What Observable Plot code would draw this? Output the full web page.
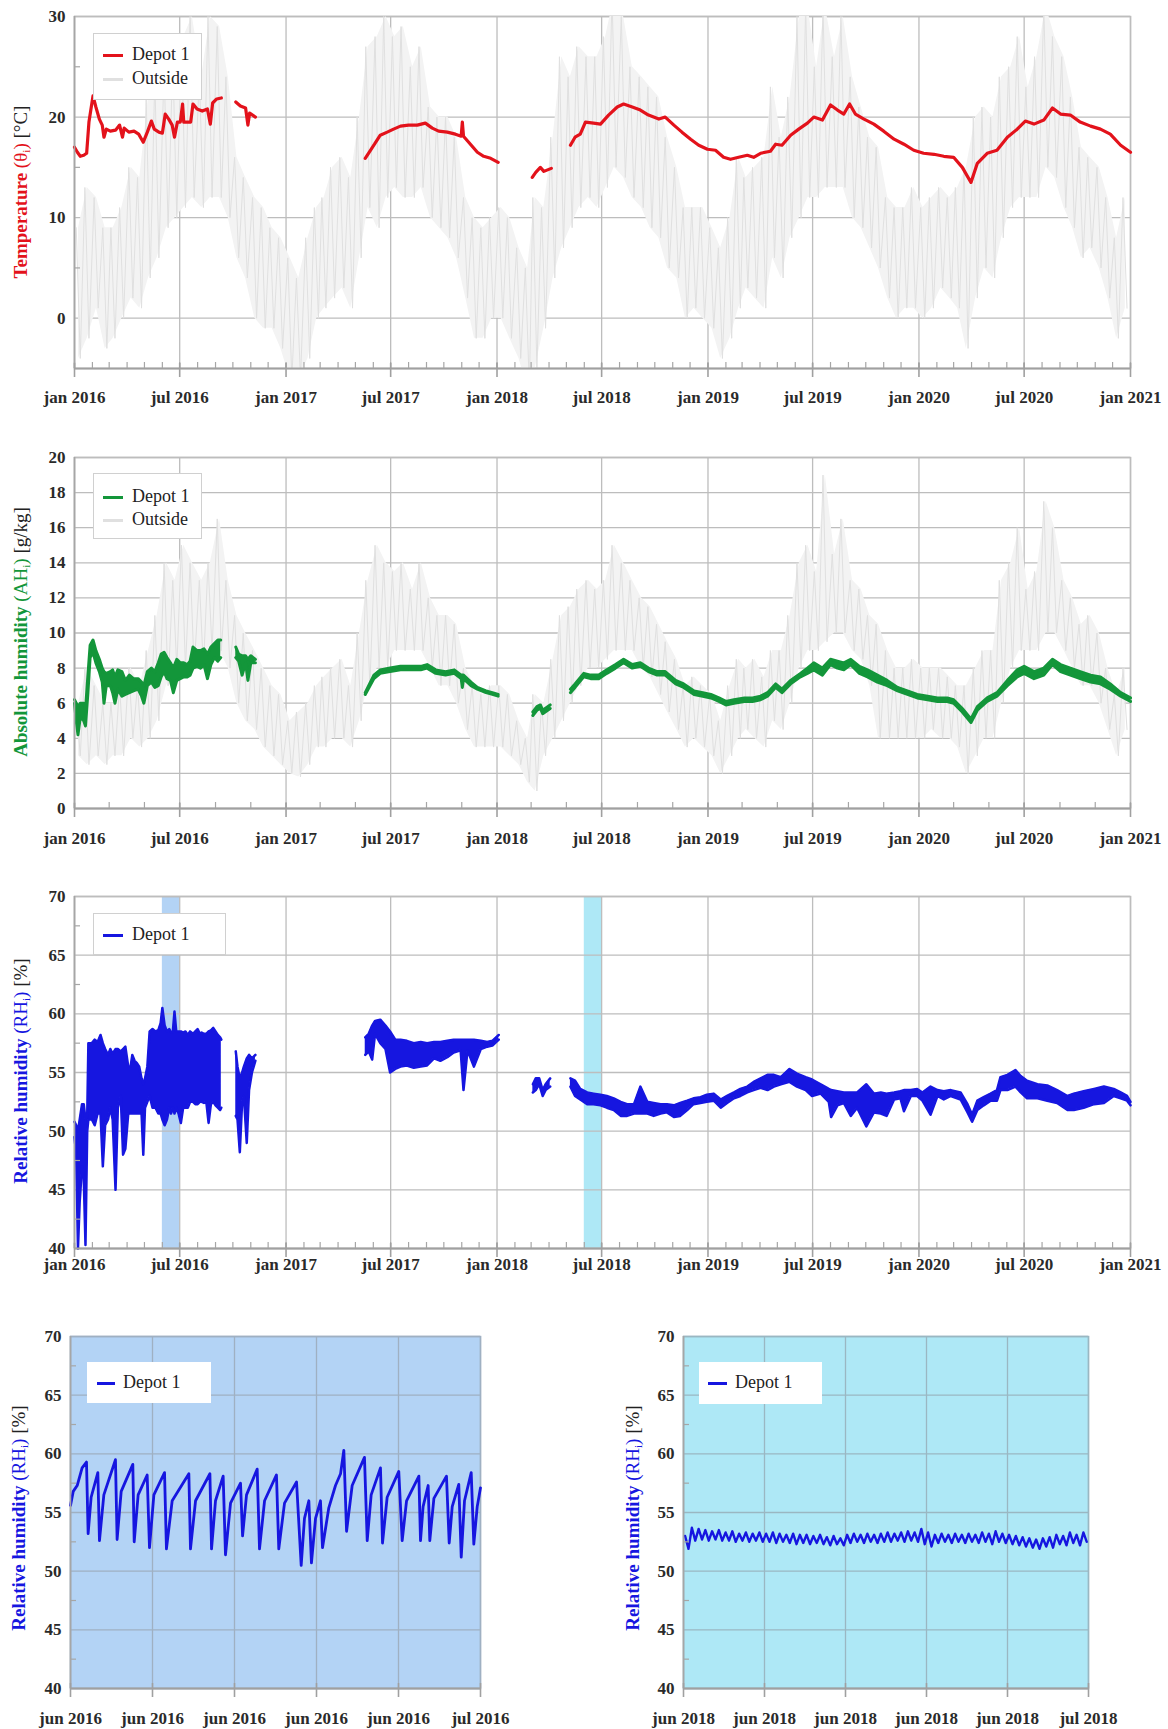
<!DOCTYPE html>
<html><head><meta charset="utf-8">
<script src="https://cdn.jsdelivr.net/npm/d3@7"></script>
<script src="https://cdn.jsdelivr.net/npm/@observablehq/plot@0.6"></script>
<style>
html,body{margin:0;padding:0;background:#fff;overflow:hidden;}
#page{position:relative;width:1168px;height:1729px;font-family:"Liberation Serif",serif;}
.ylab{position:absolute;white-space:nowrap;transform:translate(-50%,-50%) rotate(-90deg);font-size:19px;color:#222;}
.ylab sub{font-size:0.6em;vertical-align:-0.25em;}
.legend{position:absolute;background:#fff;box-sizing:border-box;font-size:18px;color:#222;}
.legend .sw{position:absolute;height:3px;}
.legend .tx{position:absolute;line-height:20px;white-space:nowrap;}
</style></head>
<body><div id="page"></div>
<script>
// ---------- DATA ----------
// Depot 1 temperature [days since 2016-01-01, °C]; null = gap
const tempDepot = [[0,17.0],[5,16.5],[10,16.1],[16,16.2],[21,16.4],[25,19.5],[32,22.1],[37,21.0],[43,19.8],[48,19.2],[51,18.0],[55,18.8],[62,18.6],[71,18.7],[78,19.2],[83,18.0],[86,18.9],[94,18.5],[103,18.6],[111,18.3],[119,17.5],[126,18.5],[133,19.6],[138,18.8],[146,18.5],[152,18.4],[157,20.3],[163,19.8],[169,19.2],[173,18.0],[178,19.5],[183,19.5],[187,21.3],[189,19.5],[201,19.5],[205,21.3],[212,20.8],[221,20.6],[230,20.8],[235,19.3],[239,21.4],[246,21.8],[254,21.9],[265,null],
[279,21.5],[287,21.1],[296,20.9],[300,19.2],[303,20.4],[313,20.0],[400,null],
[503,15.9],[512,16.7],[519,17.3],[529,18.2],[541,18.5],[552,18.8],[564,19.1],[578,19.2],[593,19.2],[607,19.4],[619,18.9],[630,18.6],[645,18.5],[659,18.3],[669,18.1],[671,19.5],[673,18.1],[682,17.5],[697,16.5],[708,16.1],[720,15.9],[733,15.5],[760,null],
[792,14.0],[798,14.5],[806,15.0],[812,14.6],[825,14.9],[840,null],
[858,17.2],[866,18.0],[875,18.3],[884,19.5],[898,19.4],[910,19.3],[924,20.2],[939,21.0],[950,21.3],[965,21.0],[979,20.7],[993,20.2],[1011,19.8],[1022,20.0],[1037,19.2],[1051,18.5],[1066,17.8],[1080,17.2],[1095,16.8],[1109,16.7],[1123,16.0],[1135,15.8],[1149,16.0],[1164,16.2],[1175,16.0],[1187,16.4],[1204,16.6],[1213,17.3],[1224,17.2],[1239,18.2],[1253,18.8],[1268,19.4],[1279,20.0],[1294,19.7],[1308,21.2],[1320,20.7],[1331,20.3],[1341,21.3],[1351,20.3],[1366,19.8],[1383,19.3],[1400,18.6],[1418,17.8],[1435,17.3],[1452,16.7],[1469,16.4],[1487,16.3],[1504,16.1],[1521,16.0],[1536,15.0],[1551,13.5],[1562,15.4],[1579,16.4],[1596,16.7],[1614,18.0],[1631,18.8],[1645,19.6],[1660,19.3],[1677,19.7],[1692,20.9],[1706,20.3],[1723,20.2],[1740,19.5],[1758,19.1],[1775,18.8],[1792,18.3],[1810,17.2],[1827,16.5]];

// Depot 1 absolute humidity [day, low, high] g/kg
const ahDepot = [[0,6.0,6.2],[3,5.0,6.0],[6,4.2,5.8],[10,5.2,6.0],[16,5.0,6.0],[19,4.7,5.6],[23,6.5,7.5],[27,8.6,9.3],[32,8.9,9.6],[37,8.3,9.0],[43,7.8,8.5],[48,7.2,8.0],[51,6.0,7.8],[55,7.0,7.7],[62,7.0,7.8],[66,6.6,7.9],[70,6.0,7.5],[75,6.8,7.9],[82,6.4,7.8],[88,6.5,7.3],[95,6.6,7.6],[102,6.7,7.4],[110,6.8,7.4],[116,6.4,7.2],[120,6.0,7.0],[126,7.0,7.8],[133,7.2,8.0],[139,6.9,7.8],[145,7.0,8.3],[150,7.5,8.8],[155,7.8,8.9],[160,7.4,8.6],[166,7.3,8.3],[171,6.6,8.0],[177,7.3,8.5],[183,7.4,8.3],[189,7.5,8.3],[195,7.5,8.2],[200,7.6,8.4],[205,8.0,9.2],[212,8.1,9.0],[218,8.0,9.0],[224,8.2,9.1],[230,7.4,8.8],[236,8.2,9.2],[242,8.6,9.4],[248,8.4,9.6],[253,8.6,9.6],[265,null,null],
[279,8.6,9.2],[284,8.4,8.8],[290,7.6,8.7],[296,8.3,8.7],[300,7.3,8.5],[305,8.3,8.7],[313,8.3,8.5],[400,null,null],
[503,6.5,6.6],[518,7.4,7.6],[529,7.7,7.9],[546,7.8,8.0],[564,7.9,8.1],[581,7.9,8.1],[599,7.9,8.1],[610,8.0,8.2],[625,7.7,7.9],[642,7.6,7.8],[657,7.7,7.9],[669,7.4,7.6],[671,6.9,7.6],[673,7.4,7.6],[686,7.0,7.2],[697,6.8,6.9],[712,6.6,6.7],[723,6.5,6.6],[733,6.4,6.5],[760,null,null],
[793,5.3,5.5],[800,5.6,5.8],[806,5.7,5.9],[810,5.4,5.6],[823,5.7,5.9],[840,null,null],
[858,6.6,6.8],[866,6.9,7.1],[881,7.5,7.7],[893,7.4,7.6],[907,7.4,7.6],[921,7.7,7.9],[936,8.0,8.2],[950,8.3,8.5],[965,8.0,8.2],[979,8.1,8.3],[993,7.8,8.0],[1008,7.6,7.8],[1022,7.6,7.8],[1040,7.1,7.3],[1054,6.9,7.1],[1072,6.5,6.7],[1087,6.4,6.6],[1101,6.3,6.5],[1115,6.1,6.3],[1127,5.9,6.1],[1141,6.0,6.2],[1159,6.1,6.3],[1173,6.1,6.3],[1187,6.2,6.4],[1199,6.4,6.6],[1213,6.9,7.1],[1224,6.6,6.8],[1239,7.1,7.3],[1256,7.5,7.7],[1268,7.7,8.0],[1279,7.9,8.3],[1294,7.6,8.0],[1308,8.2,8.5],[1320,8.0,8.4],[1331,7.9,8.3],[1343,8.2,8.5],[1358,7.7,8.1],[1372,7.5,7.9],[1389,7.2,7.6],[1406,7.0,7.3],[1424,6.7,6.9],[1441,6.5,6.7],[1458,6.3,6.5],[1476,6.2,6.4],[1493,6.1,6.3],[1510,6.1,6.3],[1521,6.0,6.2],[1536,5.5,5.7],[1551,4.9,5.1],[1562,5.6,5.8],[1579,6.1,6.3],[1596,6.4,6.6],[1614,7.0,7.3],[1631,7.5,7.9],[1643,7.7,8.1],[1660,7.4,7.8],[1677,7.6,8.0],[1692,8.2,8.5],[1706,7.8,8.2],[1723,7.6,8.0],[1740,7.4,7.8],[1758,7.2,7.6],[1775,7.1,7.5],[1792,6.8,7.1],[1810,6.4,6.6],[1827,6.1,6.3]];

// Depot 1 relative humidity [day, low, high] %
const rhDepot = [[0,49.5,50.8],[3,48,50.5],[6,40,50],[9,44,51],[13,47,52.3],[16,46,52.3],[19,40.3,51],[22,50,51.3],[24,51,57.5],[30,51,57.5],[35,50.5,57.8],[40,51.5,57.6],[45,51.5,58.2],[49,47,57.5],[53,50.5,57],[58,51,56.5],[62,52,57],[66,51,56.6],[71,45,57],[75,52,57],[80,53,56.8],[84,48,57],[88,48.5,57.2],[93,51.5,55.5],[97,51.5,55.5],[100,51.5,56.5],[104,51.5,56],[108,51.5,55.8],[112,51.5,55.5],[116,51.5,54.5],[119,48,54],[122,52,54.5],[126,52.5,55.5],[130,53,58.5],[135,52,58.7],[140,52,58.5],[145,51.5,58.6],[149,51.5,59.2],[152,51,60.5],[156,50.5,59],[160,51,58.5],[164,52,58.7],[167,51.5,58.4],[170,52,58.4],[173,51.5,60.2],[176,52,58.5],[180,51.5,58.5],[184,50.7,58.5],[188,52,58.4],[192,52,58.5],[196,52,58.2],[200,52.5,58.5],[205,52.5,58.3],[209,52.3,58.5],[213,52.3,58.7],[217,52.5,58.3],[220,52.5,58.4],[224,52.4,58.3],[228,52.5,58.3],[232,50.7,58.5],[236,52.3,58.6],[240,52.5,58.8],[244,52.2,58.5],[248,52,58.2],[252,51.8,58],[254,52,57.8],[265,null,null],
[279,51.3,56.8],[282,51,55.5],[286,48.2,54.5],[290,52.5,55],[293,53,55.5],[298,49,56.2],[302,53.5,56.5],[307,55,56.2],[313,56,56.5],[400,null,null],
[503,56.5,58],[509,56.8,58.3],[515,56.1,59],[520,58.3,59.4],[529,57.5,59.5],[538,57,59],[546,55,58.5],[555,55.3,57.8],[564,55.5,57.8],[575,55.6,57.7],[587,55.4,57.5],[599,55.5,57.6],[610,55.6,57.5],[622,56.2,57.6],[633,56,57.6],[645,56.3,57.7],[656,56.7,57.8],[668,56.9,57.8],[673,53.5,57.8],[680,56.9,57.8],[691,55.5,57.8],[703,57,57.7],[714,57.2,57.6],[723,57.3,57.7],[734,57.8,58.2],[760,null,null],
[793,53.3,54],[798,53.5,54.5],[804,54,54.5],[810,53,53.5],[815,53.5,54],[823,53.8,54.5],[840,null,null],
[858,53.8,54.5],[866,53,54.3],[875,52.7,53.6],[887,52.3,53.3],[898,52.3,53.2],[910,52.2,53.1],[921,52,53],[933,51.8,52.8],[945,51.3,52.5],[956,51.3,52.3],[968,51.5,52.3],[979,51.5,53.8],[991,51.5,52.5],[1002,51.3,52.4],[1014,51.5,52.3],[1025,51.6,52.3],[1037,51.2,52.2],[1048,51.3,52.4],[1060,51.8,52.6],[1071,52.3,52.8],[1083,52.4,52.9],[1094,52.5,53.1],[1106,52.6,53.2],[1118,52,52.7],[1129,52.4,53],[1141,52.8,53.3],[1152,53,53.6],[1164,53.3,53.8],[1175,53.5,54.2],[1187,53.7,54.5],[1199,53.5,54.8],[1210,53.8,54.8],[1222,54,54.6],[1237,54.2,55.3],[1250,53.8,54.9],[1265,53.5,54.6],[1276,53,54.4],[1291,53.2,54],[1305,52.5,53.6],[1309,51.2,53.5],[1320,52.2,53.4],[1331,52.4,53.3],[1343,51.3,53.3],[1354,52,53.3],[1370,50.4,54],[1383,51.6,53.2],[1395,51.5,53.3],[1405,51.3,53.2],[1418,52.7,53.3],[1429,52.8,53.4],[1435,51.7,53.5],[1447,53,53.5],[1458,53,53.6],[1467,52.6,53.3],[1481,51.4,53.8],[1493,53,53.5],[1504,52.7,53.4],[1516,53,53.5],[1533,52.7,53.3],[1545,51.6,52.3],[1553,50.8,51.4],[1562,51.8,52.6],[1573,52.2,52.9],[1585,52.6,53.2],[1596,52.6,53.5],[1602,53.5,54.6],[1614,53.5,54.8],[1628,53.8,55.2],[1637,53.3,54.7],[1648,52.8,54.3],[1666,52.8,54],[1683,52.6,53.9],[1700,52.4,53.5],[1718,51.8,53],[1729,51.8,53.2],[1746,52,53.4],[1764,52.3,53.6],[1781,52.4,53.8],[1798,53,53.6],[1810,52.8,53.3],[1821,52.6,53],[1827,52.2,52.5]];

// Outside, half-monthly extremes (1st and 16th of each month, Jan 2016 .. Dec 2020)
const tempOutHi = [9,13,12,9,9,11,15,14,22,24,25,26,28,30,24,30,29,24,16,14,12,11,9,8,6,4,8,11,12,15,16,14,20,27,28,30,28,29,25,27,21,20,20,18,12,10,9,10,11,10,7,5,12,11,18,26,24,27,26,26,28,32,30,25,24,23,22,18,15,11,11,11,9,7,10,16,14,15,16,23,18,22,30,31,25,31,26,30,24,21,18,17,12,11,11,13,11,12,13,12,13,15,20,21,20,24,25,28,23,26,31,28,26,22,17,16,15,12,8,12];
const tempOutLo = [-4,-2,1,-3,-2,0,2,1,4,6,9,10,11,12,11,12,12,10,6,4,0,-1,-1,-3,-6,-6,-4,0,1,2,3,1,6,11,9,12,13,12,12,13,10,9,8,6,2,-2,-2,0,0,-2,-4,-7,-5,-1,4,7,9,11,12,11,13,15,14,12,11,9,8,5,4,0,1,0,-1,-4,-2,1,3,2,1,6,4,8,10,12,12,13,13,13,10,9,7,5,2,0,1,1,0,1,3,2,1,-3,2,5,4,8,11,12,12,12,15,14,11,9,6,7,5,2,-2,1];
const ahOutHi = [6,8,7,6,6,7,8,7,9,11,14,13,15,14,13,14,16.5,13,11,10,9,8,7,6.5,5,5.5,6,7,7.5,8,8.5,7,10,13,15,14,13.5,14,12.5,14,12,11,11,10.5,8,7,6.5,7,7,6.5,5,4,6.5,6,8.5,11,11.5,12.5,13,12.5,13,15,14,13,12,11.5,10.5,9.5,8.5,7,7.5,7,6.5,5,7,8.5,8,8.5,7.5,9,9,11,14,15,13.5,19,14.5,16.5,13,12.5,11,10.5,9,8,8,8.5,8,8,8,7.5,7,7,8,9,9,13,14,16,12.5,13.5,17.5,16,13,12,10.5,11,10,8,6.5,8];
const ahOutLo = [3,2.5,3,2.5,3,3,4,3.5,4,5,7,8,8,8,8,9,9,8,6,5,4.5,3.5,3,2.5,2,1.8,2.5,3.5,3.5,4,4,3.5,5,7,8,8,9,9,9,9,8,7,7,6,4.5,3.5,3.5,3.5,3.5,3,2.5,1.5,1,3,4,5,6,7,8,8,8.5,9,9,9,8,7.5,6.5,5.5,4.5,3.5,4,3.5,3,2,3,4,4.5,4,3.5,5,4.5,6,8,9,9,9.5,10,10,9,8.5,7,4,4,4,4,4,4,4.5,4,4,3.5,2,3,4,4,6,8,9,9,9,10,10,9,8,7,7,6,4.5,3,4.5];

// Zoom 1: Depot 1 RH, 1 Jun – 1 Jul 2016 [days since 1 Jun, %]
const rhJun2016 = [[0.00,55.6],[0.20,56.8],[0.49,57.3],[0.85,58.8],[1.17,59.3],[1.29,53.2],[1.51,56.3],[2.00,58.4],[2.12,52.6],[2.44,56.5],[3.29,59.5],[3.41,52.7],[3.71,56.8],[4.56,59.1],[4.66,52.5],[4.95,56.5],[5.61,58.2],[5.78,52.0],[6.10,56.5],[6.88,58.4],[7.02,51.9],[7.44,56.0],[8.66,58.3],[8.78,51.9],[9.15,56.0],[10.20,58.3],[10.32,51.9],[10.61,56.0],[11.17,58.1],[11.34,51.4],[11.71,55.8],[12.44,57.5],[12.59,53.0],[12.88,56.5],[13.66,58.7],[13.83,51.9],[14.20,56.0],[15.07,58.2],[15.24,51.9],[15.66,55.8],[16.54,57.6],[16.88,50.5],[17.12,54.5],[17.44,56.0],[17.63,50.7],[17.93,54.5],[18.29,56.0],[18.44,52.0],[18.90,55.4],[19.39,57.3],[19.76,58.3],[20.00,60.3],[20.20,53.4],[20.61,57.3],[21.51,59.7],[21.71,52.6],[22.00,56.5],[22.68,58.8],[22.83,52.4],[23.17,56.3],[24.02,58.5],[24.27,52.6],[24.59,56.0],[25.49,58.1],[25.61,52.6],[25.80,55.5],[26.17,57.3],[26.29,52.6],[26.59,56.2],[27.51,58.1],[27.71,52.4],[27.93,55.5],[28.41,57.4],[28.59,51.2],[28.83,56.0],[29.32,58.4],[29.51,52.3],[29.76,55.5],[30.00,57.1]];

// Zoom 2: Depot 1 RH, 1 Jun – 1 Jul 2018, half-daily extremes
const rhJun2018Hi = [53.0,53.7,53.6,53.5,53.4,53.5,53.3,53.4,53.2,53.3,53.2,53.3,53.2,53.3,53.2,53.1,53.2,53.1,53.1,53.0,53.1,52.9,53.0,52.8,53.1,53.2,53.1,53.2,53.1,53.2,53.3,53.2,53.3,53.4,53.3,53.6,53.3,53.1,53.2,53.1,53.2,53.1,53.2,53.1,53.3,53.2,53.4,53.2,53.1,53.0,52.9,52.8,52.7,52.8,52.9,53.1,53.0,53.3,53.1,53.3];
const rhJun2018Lo = [51.9,52.6,52.7,52.6,52.7,52.6,52.6,52.5,52.6,52.5,52.6,52.5,52.5,52.4,52.5,52.4,52.3,52.4,52.3,52.4,52.3,52.2,52.3,52.2,52.4,52.5,52.4,52.5,52.4,52.5,52.5,52.6,52.5,52.6,52.5,52.3,52.1,52.4,52.5,52.4,52.5,52.4,52.5,52.4,52.5,52.3,52.5,52.4,52.3,52.2,52.1,52.0,51.9,52.1,52.0,52.3,52.2,52.4,52.2,52.5];

// Highlighted periods (shown enlarged below)
const bandStarts = ["2016-06-01","2018-06-01"];
const bandEnds = ["2016-07-01","2018-07-01"];
const bandColors = ["#b3d3f5","#aee8f6"];

// Axis ticks
const longTicks = ["2016-01-01","2016-07-01","2017-01-01","2017-07-01","2018-01-01","2018-07-01","2019-01-01","2019-07-01","2020-01-01","2020-07-01","2021-01-01"];
const ticks2016 = ["2016-06-01","2016-06-07","2016-06-13","2016-06-19","2016-06-25","2016-07-01"];
const ticks2018 = ["2018-06-01","2018-06-07","2018-06-13","2018-06-19","2018-06-25","2018-07-01"];
const tempTicks = [0,10,20,30], tempMinor = [5,15,25];
const ahTicks = [0,2,4,6,8,10,12,14,16,18,20];
const rhTicks = [40,45,50,55,60,65,70], rhMinor = [42.5,47.5,52.5,57.5,62.5,67.5];

// ---------- HELPERS ----------
const D = s => new Date(s + "T00:00:00Z");
const T0 = Date.UTC(2016,0,1);
const dayDate = (base, d) => new Date(base + d*864e5);
const toRows = (arr, base) => arr.map(r => ({date: dayDate(base, r[0]), lo: r[1], hi: r.length > 2 ? r[2] : r[1]}));
const periodStart = k => Date.UTC(2016, Math.floor(k/2), k % 2 ? 16 : 1);
function outsideRows(hi, lo){
  const zig = [], band = [];
  hi.forEach((h, k) => {
    const s = periodStart(k);
    zig.push({date: dayDate(s, 3), v: h});
    zig.push({date: dayDate(s, 10), v: lo[k]});
    band.push({date: dayDate(s, 7), hi: h, lo: lo[k]});
  });
  return {zig, band};
}
const fmt = d => d3.utcFormat("%b %Y")(d).toLowerCase();
const FONT = "'Liberation Serif', serif";
const RED = "#e3121b", GREEN = "#13963a", BLUE = "#1616e0", OUT = "#e0e0e0";

function monthRange(a, b, step){ return d3.utcMonth.every(step).range(D(a), d3.utcDay.offset(D(b),1)); }

function panel(o){
  const plotH = o.height - o.mt - o.mb, plotW = o.width - o.ml - o.mr;
  const xMajor = o.xMajor.map(D);
  const gc = o.gridColor || "#bdbdbd";
  const marks = [];
  if (o.bg) marks.push(Plot.frame({fill: o.bg, stroke: null}));
  if (o.under) marks.push(...o.under);
  marks.push(Plot.gridX({ticks: xMajor, stroke: gc, strokeOpacity: 1, strokeWidth: 1.3}));
  marks.push(Plot.gridY({ticks: o.yTicks, stroke: gc, strokeOpacity: 1, strokeWidth: 1.3}));
  marks.push(Plot.frame({stroke: gc, strokeWidth: 1.5}));
  marks.push(...o.marks);
  marks.push(Plot.ruleX([o.xDomain[0]], {stroke: "#a6a6a6", strokeWidth: 1.6}));
  marks.push(Plot.ruleY([o.yDomain[0]], {stroke: "#a0a0a0", strokeWidth: 2}));
  if (o.yMinor) marks.push(Plot.tickY(o.yMinor, {y: d => d, stroke: "#a6a6a6", strokeWidth: 1.2, insetRight: plotW - 6}));
  if (o.xMinor) marks.push(Plot.tickX(o.xMinor, {x: d => d, stroke: "#a6a6a6", strokeWidth: 1.2, insetTop: plotH - 6}));
  marks.push(Plot.tickX(xMajor, {x: d => d, stroke: "#a0a0a0", strokeWidth: 1.6, insetTop: plotH - 5, insetBottom: -9}));
  marks.push(Plot.axisX({ticks: xMajor, tickSize: 0, tickPadding: o.labelPad, tickFormat: fmt, fill: "#2a2a2a", fontSize: 17, fontWeight: "bold", label: null}));
  marks.push(Plot.axisY({ticks: o.yTicks, tickSize: 0, tickPadding: 9, fill: "#2a2a2a", fontSize: 17, fontWeight: "bold", label: null}));
  const svg = Plot.plot({
    width: o.width, height: o.height,
    marginTop: o.mt, marginBottom: o.mb, marginLeft: o.ml, marginRight: o.mr,
    x: {type: "utc", domain: o.xDomain, label: null}, y: {domain: o.yDomain, label: null},
    style: {fontFamily: FONT, fontSize: "17px", overflow: "visible", background: "none"},
    marks
  });
  svg.style.position = "absolute"; svg.style.left = o.left + "px"; svg.style.top = o.top + "px";
  svg.style.maxWidth = "none";
  page.appendChild(svg);
}

function yLabel(x, y, html){
  const d = document.createElement("div"); d.className = "ylab";
  d.style.left = x + "px"; d.style.top = y + "px"; d.innerHTML = html; page.appendChild(d);
}
function legend(x, y, w, h, rows, border){
  const d = document.createElement("div"); d.className = "legend";
  Object.assign(d.style, {left: x+"px", top: y+"px", width: w+"px", height: h+"px", border: border ? "1px solid #d0d0d0" : "none"});
  rows.forEach(r => {
    const s = document.createElement("div"); s.className = "sw";
    Object.assign(s.style, {left: r.sx+"px", width: r.sw+"px", top: (r.cy-1.5)+"px", background: r.color});
    const t = document.createElement("div"); t.className = "tx";
    Object.assign(t.style, {left: r.tx+"px", top: (r.cy-11)+"px"}); t.textContent = r.label;
    d.appendChild(s); d.appendChild(t);
  });
  page.appendChild(d);
}

const page = document.getElementById("page");
const longDomain = [D("2016-01-01"), D("2021-01-01")];

// ---------- PANEL 1: temperature ----------
const tOut = outsideRows(tempOutHi, tempOutLo);
const tDep = toRows(tempDepot, T0);
panel({left: 0, top: 0, width: 1168, height: 420, mt: 16, mb: 52, ml: 74, mr: 38, labelPad: 22,
  xDomain: longDomain, yDomain: [-5, 30], yTicks: tempTicks, yMinor: tempMinor,
  xMajor: longTicks, xMinor: monthRange("2016-01-01","2021-01-01",1),
  marks: [
    Plot.areaY(tOut.band, {x: "date", y1: "lo", y2: "hi", fill: "#f3f3f3", clip: true}),
    Plot.line(tOut.zig, {x: "date", y: "v", stroke: OUT, strokeWidth: 1, clip: true}),
    Plot.line(tDep, {x: "date", y: "lo", stroke: RED, strokeWidth: 3.2})
  ]});
yLabel(21, 192, `<span style="color:${RED}"><b>Temperature</b> (θ<sub>i</sub>)</span> [°C]`);
legend(93, 33, 109, 67, [
  {color: RED, label: "Depot 1", cy: 21, sx: 9, sw: 20, tx: 38},
  {color: OUT, label: "Outside", cy: 45, sx: 9, sw: 20, tx: 38}], true);

// ---------- PANEL 2: absolute humidity ----------
const aOut = outsideRows(ahOutHi, ahOutLo);
const aDep = toRows(ahDepot, T0);
panel({left: 0, top: 430, width: 1168, height: 440, mt: 27, mb: 62, ml: 74, mr: 38, labelPad: 23,
  xDomain: longDomain, yDomain: [0, 20], yTicks: ahTicks,
  xMajor: longTicks, xMinor: monthRange("2016-01-01","2021-01-01",2),
  marks: [
    Plot.areaY(aOut.band, {x: "date", y1: "lo", y2: "hi", fill: "#f3f3f3", clip: true}),
    Plot.line(aOut.zig, {x: "date", y: "v", stroke: OUT, strokeWidth: 1, clip: true}),
    Plot.areaY(aDep, {x: "date", y1: "lo", y2: "hi", fill: GREEN}),
    Plot.line(aDep, {x: "date", y: "lo", stroke: GREEN, strokeWidth: 3}),
    Plot.line(aDep, {x: "date", y: "hi", stroke: GREEN, strokeWidth: 3})
  ]});
yLabel(21, 632, `<span style="color:${GREEN}"><b>Absolute humidity</b> (AH<sub>i</sub>)</span> [g/kg]`);
legend(93, 473, 109, 66, [
  {color: GREEN, label: "Depot 1", cy: 23, sx: 9, sw: 20, tx: 38},
  {color: OUT, label: "Outside", cy: 46, sx: 9, sw: 20, tx: 38}], true);

// ---------- PANEL 3: relative humidity ----------
const rDep = toRows(rhDepot, T0);
const bands = bandStarts.map((s, i) => ({x1: D(s), x2: D(bandEnds[i]), c: bandColors[i]}));
panel({left: 0, top: 870, width: 1168, height: 420, mt: 26, mb: 42, ml: 74, mr: 38, labelPad: 9,
  xDomain: longDomain, yDomain: [40, 70], yTicks: rhTicks, yMinor: rhMinor,
  xMajor: longTicks, xMinor: monthRange("2016-01-01","2021-01-01",1),
  under: [Plot.rect(bands, {x1: "x1", x2: "x2", fill: "c"})],
  marks: [
    Plot.areaY(rDep, {x: "date", y1: "lo", y2: "hi", fill: BLUE}),
    Plot.line(rDep, {x: "date", y: "lo", stroke: BLUE, strokeWidth: 2.5}),
    Plot.line(rDep, {x: "date", y: "hi", stroke: BLUE, strokeWidth: 2.5})
  ]});
yLabel(21, 1071, `<span style="color:${BLUE}"><b>Relative humidity</b> (RH<sub>i</sub>)</span> [%]`);
legend(93, 913, 133, 42, [{color: BLUE, label: "Depot 1", cy: 21, sx: 9, sw: 20, tx: 38}], true);

// ---------- PANEL 4: June 2016 ----------
const r16 = toRows(rhJun2016, Date.UTC(2016,5,1));
panel({left: 0, top: 1300, width: 520, height: 429, mt: 36, mb: 41, ml: 70, mr: 40, labelPad: 23,
  xDomain: [D("2016-06-01"), D("2016-07-01")], yDomain: [40, 70], yTicks: rhTicks, yMinor: rhMinor,
  xMajor: ticks2016, bg: bandColors[0], gridColor: "#9fb0c2",
  marks: [Plot.line(r16, {x: "date", y: "lo", stroke: BLUE, strokeWidth: 2.8})]});
yLabel(19, 1518, `<span style="color:${BLUE}"><b>Relative humidity</b> (RH<sub>i</sub>)</span> [%]`);
legend(87, 1362, 124, 41, [{color: BLUE, label: "Depot 1", cy: 21, sx: 10, sw: 18, tx: 36}], false);

// ---------- PANEL 5: June 2018 ----------
const base18 = Date.UTC(2018,5,1);
const r18 = [];
rhJun2018Hi.forEach((h, i) => {
  r18.push({date: dayDate(base18, i*0.5 + 0.12), v: h});
  r18.push({date: dayDate(base18, i*0.5 + 0.37), v: rhJun2018Lo[i]});
});
panel({left: 600, top: 1300, width: 568, height: 429, mt: 36, mb: 41, ml: 83, mr: 80, labelPad: 23,
  xDomain: [D("2018-06-01"), D("2018-07-01")], yDomain: [40, 70], yTicks: rhTicks, yMinor: rhMinor,
  xMajor: ticks2018, bg: bandColors[1], gridColor: "#9ab7c2",
  marks: [Plot.line(r18, {x: "date", y: "v", stroke: BLUE, strokeWidth: 2.4})]});
yLabel(633, 1518, `<span style="color:${BLUE}"><b>Relative humidity</b> (RH<sub>i</sub>)</span> [%]`);
legend(699, 1362, 123, 42, [{color: BLUE, label: "Depot 1", cy: 21, sx: 9, sw: 19, tx: 36}], false);
</script>
</body></html>
